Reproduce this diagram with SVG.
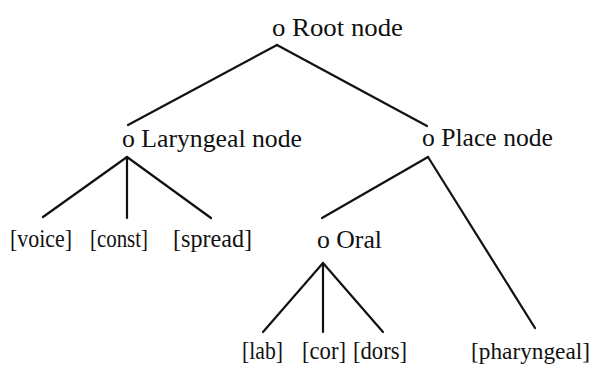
<svg xmlns="http://www.w3.org/2000/svg" width="598" height="370" viewBox="0 0 598 370">
  <style>
    .lbl { font-family: "Liberation Serif", "Times New Roman", serif; font-size: 25px; fill: #111; }
    .edge { stroke: #111; stroke-width: 2.2; fill: none; stroke-linecap: round; }
  </style>
  <rect width="598" height="370" fill="#fff"/>

  <!-- branches of the feature tree -->
  <g id="connectors">
    <line class="edge" x1="277" y1="45" x2="128" y2="125"/>
    <line class="edge" x1="277" y1="45" x2="427" y2="126"/>
    <line class="edge" x1="127" y1="157" x2="43" y2="217"/>
    <line class="edge" x1="127" y1="157" x2="127" y2="218"/>
    <line class="edge" x1="127" y1="157" x2="211" y2="218"/>
    <line class="edge" x1="428" y1="157" x2="322" y2="218"/>
    <line class="edge" x1="428" y1="157" x2="535" y2="328"/>
    <line class="edge" x1="323" y1="263" x2="263" y2="332"/>
    <line class="edge" x1="323" y1="263" x2="323" y2="332"/>
    <line class="edge" x1="323" y1="263" x2="383" y2="332"/>
  </g>

  <g id="root"><text class="lbl" x="272" y="36" textLength="131" lengthAdjust="spacingAndGlyphs">o Root node</text></g>
  <g id="laryngeal"><text class="lbl" x="122" y="147" textLength="180" lengthAdjust="spacingAndGlyphs">o Laryngeal node</text></g>
  <g id="place"><text class="lbl" x="422" y="146" textLength="131" lengthAdjust="spacingAndGlyphs">o Place node</text></g>
  <g id="oral"><text class="lbl" x="317" y="248" textLength="65" lengthAdjust="spacingAndGlyphs">o Oral</text></g>

  <g id="voice"><text class="lbl" x="10" y="247" textLength="62" lengthAdjust="spacingAndGlyphs">[voice]</text></g>
  <g id="const"><text class="lbl" x="90" y="247" textLength="58" lengthAdjust="spacingAndGlyphs">[const]</text></g>
  <g id="spread"><text class="lbl" x="173" y="247" textLength="79" lengthAdjust="spacingAndGlyphs">[spread]</text></g>

  <g id="lab"><text class="lbl" x="242" y="359" textLength="41" lengthAdjust="spacingAndGlyphs">[lab]</text></g>
  <g id="cor"><text class="lbl" x="302" y="359" textLength="44" lengthAdjust="spacingAndGlyphs">[cor]</text></g>
  <g id="dors"><text class="lbl" x="353" y="359" textLength="54" lengthAdjust="spacingAndGlyphs">[dors]</text></g>
  <g id="pharyngeal"><text class="lbl" x="471" y="359" style="font-size:24px" textLength="119" lengthAdjust="spacingAndGlyphs">[pharyngeal]</text></g>
</svg>
